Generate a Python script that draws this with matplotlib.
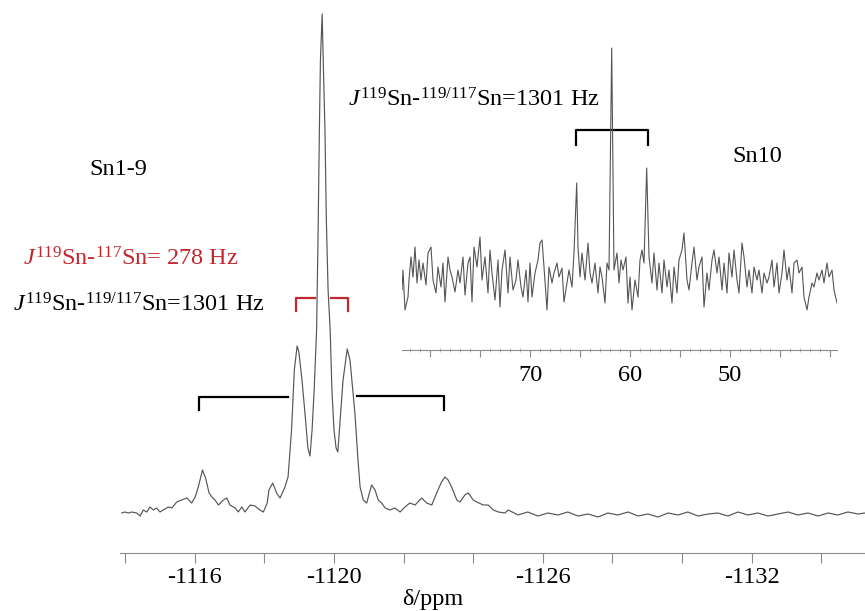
import matplotlib.pyplot as plt

plt.rcParams["font.family"] = "Liberation Serif"
plt.rcParams["mathtext.fontset"] = "custom"
plt.rcParams["mathtext.rm"] = "Liberation Serif"
plt.rcParams["mathtext.it"] = "Liberation Serif:italic"

# Sn1-9 region, 119Sn spectrum (delta in ppm, intensity in a.u.)
main_ppm = [
    -1113.90, -1113.99, -1114.09, -1114.19, -1114.33, -1114.43, -1114.52, -1114.62,
    -1114.71, -1114.81, -1114.90, -1115.00, -1115.09, -1115.24, -1115.34, -1115.48,
    -1115.62, -1115.77, -1115.91, -1116.01, -1116.10, -1116.22, -1116.31, -1116.41,
    -1116.49, -1116.58, -1116.68, -1116.82, -1116.92, -1117.01, -1117.16, -1117.25,
    -1117.35, -1117.44, -1117.59, -1117.73, -1117.87, -1117.97, -1118.08, -1118.13,
    -1118.24, -1118.35, -1118.45, -1118.59, -1118.68, -1118.78, -1118.86, -1118.94,
    -1118.99, -1119.08, -1119.17, -1119.25, -1119.31, -1119.37, -1119.43, -1119.50,
    -1119.54, -1119.58, -1119.61, -1119.66, -1119.69, -1119.74, -1119.78, -1119.83,
    -1119.89, -1119.94, -1120.00, -1120.06, -1120.11, -1120.26, -1120.38, -1120.46,
    -1120.60, -1120.69, -1120.75, -1120.84, -1120.94, -1121.08, -1121.18, -1121.27,
    -1121.37, -1121.47, -1121.61, -1121.75, -1121.90, -1122.04, -1122.18, -1122.33,
    -1122.52, -1122.66, -1122.81, -1122.95, -1123.09, -1123.19, -1123.28, -1123.38,
    -1123.53, -1123.62, -1123.76, -1123.86, -1124.00, -1124.10, -1124.29, -1124.43,
    -1124.58, -1124.72, -1124.91, -1125.01, -1125.29, -1125.57, -1125.86, -1126.15,
    -1126.44, -1126.72, -1127.01, -1127.30, -1127.59, -1127.87, -1128.16, -1128.45,
    -1128.74, -1129.02, -1129.31, -1129.60, -1129.89, -1130.17, -1130.46, -1130.75,
    -1131.03, -1131.32, -1131.61, -1131.90, -1132.18, -1132.47, -1132.76, -1133.05,
    -1133.33, -1133.62, -1133.91, -1134.20, -1134.48, -1134.77, -1135.06, -1135.26,
]
main_int = [
    0, 1, 0, 1, 0, -3, 3, 1,
    6, 3, 5, 1, 3, 6, 5, 11,
    13, 15, 10, 16, 26, 43, 35, 20,
    16, 13, 8, 13, 15, 8, 5, 1,
    6, 1, 8, 7, 3, 1, 10, 23,
    30, 20, 15, 26, 36, 83, 143, 167,
    161, 133, 98, 65, 57, 83, 123, 183,
    273, 383, 453, 499, 453, 383, 293, 223,
    183, 123, 83, 65, 61, 133, 164, 153,
    100, 53, 26, 13, 10, 28, 23, 13,
    10, 5, 3, 5, 1, 6, 10, 8,
    15, 10, 8, 20, 31, 36, 33, 26,
    13, 11, 18, 20, 13, 11, 8, 8,
    3, 1, 0, 3, -2, 1, -3, 0,
    -2, 1, -3, -1, -4, 0, -2, 1,
    -3, -1, -4, 0, -2, 1, -3, -1,
    0, -3, 1, -2, 0, -3, -1, 1,
    -2, 0, -3, 0, -2, 1, -1, 0,
]

# Sn10 region
inset_ppm = [
    82.80, 82.70, 82.50, 82.20, 82.10, 81.90, 81.70, 81.50, 81.30, 81.10,
    80.90, 80.70, 80.40, 80.20, 79.90, 79.70, 79.40, 79.20, 78.90, 78.70,
    78.50, 78.20, 78.00, 77.80, 77.50, 77.20, 77.00, 76.70, 76.50, 76.20,
    76.00, 75.80, 75.60, 75.30, 75.00, 74.80, 74.50, 74.20, 74.00, 73.80,
    73.50, 73.20, 73.00, 72.80, 72.50, 72.20, 72.00, 71.70, 71.40, 71.20,
    70.90, 70.70, 70.40, 70.20, 70.00, 69.80, 69.50, 69.20, 69.00, 68.80,
    68.60, 68.30, 68.10, 67.80, 67.60, 67.30, 67.10, 66.80, 66.60, 66.30,
    66.10, 65.80, 65.60, 65.33, 65.20, 65.00, 64.80, 64.50, 64.20, 64.00,
    63.80, 63.50, 63.20, 63.00, 62.80, 62.50, 62.30, 62.10, 61.83, 61.60,
    61.30, 61.10, 60.90, 60.70, 60.40, 60.20, 60.00, 59.80, 59.50, 59.20,
    59.00, 58.80, 58.60, 58.33, 58.10, 57.80, 57.60, 57.30, 57.10, 56.80,
    56.60, 56.30, 56.10, 55.80, 55.60, 55.30, 55.10, 54.80, 54.60, 54.30,
    54.10, 53.80, 53.60, 53.30, 53.10, 52.80, 52.60, 52.30, 52.10, 51.80,
    51.60, 51.30, 51.10, 50.80, 50.60, 50.30, 50.10, 49.80, 49.60, 49.30,
    49.10, 48.80, 48.60, 48.30, 48.10, 47.80, 47.60, 47.30, 47.10, 46.80,
    46.60, 46.30, 46.10, 45.80, 45.60, 45.30, 45.10, 44.80, 44.60, 44.30,
    44.10, 43.80, 43.60, 43.30, 43.10, 42.80, 42.60, 42.30, 42.10, 41.80,
    41.60, 41.30, 41.10, 40.80, 40.60, 40.30, 40.10, 39.80, 39.60, 39.30,
]
inset_int = [
    -10, 10, -30, -17, 0, 23, 3, 33, -3, 20,
    0, 17, -5, 27, 33, 0, -13, 13, -7, 17,
    -22, 23, 10, 3, -12, 10, -3, 23, -15, 17,
    23, -22, 33, 13, 43, 0, 23, -13, 30, 7,
    -20, 20, -27, 10, 30, -13, 23, -10, 0, 20,
    -7, -17, 10, -22, 17, -17, 7, 20, 37, 40,
    13, -30, 13, -3, 7, 17, 3, 12, -22, -3,
    10, -7, 27, 97, 33, 3, 27, 0, 37, 7,
    -3, 17, -13, 13, 3, -23, 17, 10, 232, 10,
    27, -3, 20, 10, 23, -23, 3, -30, 0, -17,
    20, 30, 17, 112, 23, -3, 27, -10, 17, -13,
    20, -7, 10, -23, 13, -13, 20, 30, 47, 0,
    -10, 17, 33, 0, 13, 23, -27, 7, -10, 20,
    30, 7, 23, -10, 17, -13, 27, 3, 30, 0,
    -13, 37, 23, -7, 10, -13, 13, 0, 10, -13,
    7, -3, 3, 20, -7, 17, -13, 7, 30, 0,
    13, -13, 17, 20, 7, 13, -17, -30, -17, -3,
    -7, 7, 0, 10, -3, 17, 3, 10, -10, -23,
]

main_ticks = [-1114, -1116, -1118, -1120, -1122, -1124, -1126, -1128, -1130, -1132, -1134]
main_labels = ["", "-1116", "", "-1120", "", "", "-1126", "", "", "-1132", ""]
inset_ticks = [80, 75, 70, 65, 60, 55, 50, 45, 40]
inset_labels = ["", "", "70", "", "60", "", "50", "", ""]

W, H = 865, 611
fig = plt.figure(figsize=(W / 100, H / 100), dpi=100)


def px(x, y):
    return x / W, 1 - y / H


spec_col = "#555555"
red = "#c0282e"
fs = 17.5

# main spectrum
ax = fig.add_axes([120 / W, (H - 553) / H, 745 / W, 553 / H])
ax.plot(main_ppm, main_int, color=spec_col, lw=0.85)
ax.set_xlim(-1113.85, -1135.26)
ax.set_ylim(-40, 513)
for s in ["top", "left", "right"]:
    ax.spines[s].set_visible(False)
ax.spines["bottom"].set_color("#8a8a8a")
ax.set_yticks([])
ax.set_xticks(main_ticks)
ax.set_xticklabels(main_labels, fontsize=fs)
ax.tick_params(axis="x", direction="out", length=7, color="#8a8a8a", pad=3)
ax.patch.set_alpha(0)

# coupling brackets, 1301 Hz (black) and 278 Hz (red)
ax.plot([-1116.12, -1116.12, -1118.68], [103, 116, 116], color="black", lw=1.6)
ax.plot([-1120.66, -1123.16, -1123.16], [117, 117, 103], color="black", lw=1.6)
ax.plot([-1118.91, -1118.91, -1119.45], [202, 215, 215], color=red, lw=1.6)
ax.plot([-1119.91, -1120.40, -1120.40], [215, 215, 202], color=red, lw=1.6)

# inset: Sn10
axi = fig.add_axes([402 / W, (H - 350) / H, 435 / W, 310 / H])
axi.plot(inset_ppm, inset_int, color=spec_col, lw=0.8)
axi.set_xlim(82.8, 39.3)
axi.set_ylim(-70, 240)
for s in ["top", "left", "right"]:
    axi.spines[s].set_visible(False)
axi.spines["bottom"].set_color("#8a8a8a")
axi.set_yticks([])
axi.set_xticks(inset_ticks)
axi.set_xticklabels(inset_labels, fontsize=fs)
axi.set_xticks(range(40, 83), minor=True)
axi.tick_params(axis="x", which="major", direction="out", length=5, color="#8a8a8a", pad=6)
axi.tick_params(axis="x", which="minor", direction="inout", length=3, color="#aaaaaa")
axi.patch.set_alpha(0)
axi.plot([65.43, 65.43, 58.2, 58.2], [135, 150, 150, 135], color="black", lw=1.6, zorder=1)

j1301 = r"$J^{119}$Sn-$^{119/117}$Sn=1301 Hz"
fig.text(*px(118, 170), "Sn1-9", fontsize=fs, ha="center", va="center")
fig.text(*px(23, 259), r"$J^{119}$Sn-$^{117}$Sn= 278 Hz", fontsize=fs, color=red,
         ha="left", va="center")
fig.text(*px(13, 305), j1301, fontsize=fs, ha="left", va="center")
fig.text(*px(348, 100), j1301, fontsize=fs, ha="left", va="center")
fig.text(*px(757, 157), "Sn10", fontsize=fs, ha="center", va="center")
fig.text(*px(433, 599), "δ/ppm", fontsize=fs, ha="center", va="center")

fig.savefig("out.png", dpi=100)
